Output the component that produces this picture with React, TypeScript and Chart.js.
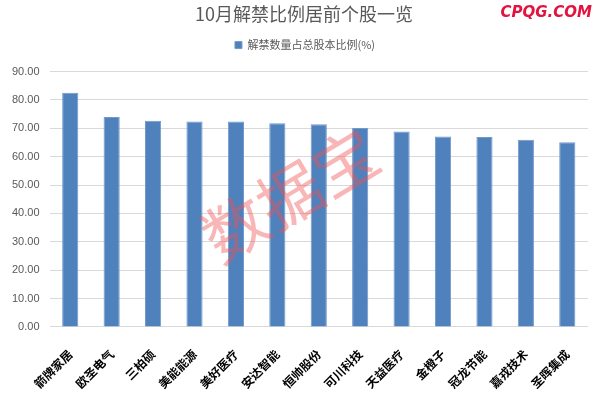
import React, { useEffect, useRef } from "react";
import { Chart, registerables } from "chart.js";

Chart.register(...registerables);

const categories = ["箭牌家居", "欧圣电气", "三柏硕", "美能能源", "美好医疗", "安达智能", "恒帅股份", "可川科技", "天益医疗", "金橙子", "冠龙节能", "嘉戎技术", "圣晖集成"];
const ratioValues = [82.5, 74.0, 72.7, 72.4, 72.4, 71.8, 71.4, 70.1, 68.9, 67.1, 66.9, 66.0, 65.1];
const seriesLabel = "解禁数量占总股本比例(%)";
const chartTitle = "10月解禁比例居前个股一览";
const yTicks = [0, 10, 20, 30, 40, 50, 60, 70, 80, 90];
const siteMark = "CPQG.COM";
const watermark = "数据宝";

const FONT = '"Noto Sans CJK SC", "Noto Sans", sans-serif';

function shiftDraw(box: any, dx: number) {
  if (!box || box.__shifted) return;
  const draw = box.draw;
  box.draw = function (...args: any[]) {
    const ctx = this.ctx;
    ctx.save();
    ctx.translate(dx, 0);
    draw.apply(this, args);
    ctx.restore();
  };
  box.__shifted = true;
}

const overlayPlugin = {
  id: "overlay",
  beforeInit(chart: any) {
    const lg = chart.legend;
    if (lg && !lg.__patched) {
      const fit = lg.fit;
      lg.fit = function () {
        fit.call(this);
        this.height += 11;
      };
      lg.__patched = true;
    }
    shiftDraw(chart.legend, 10);
    shiftDraw(chart.titleBlock, 9);
  },
  afterDraw(chart: any) {
    const ctx = chart.ctx;
    ctx.save();
    ctx.font = 'italic bold 15px "DejaVu Sans", sans-serif';
    ctx.fillStyle = "#e3123f";
    ctx.textAlign = "right";
    ctx.textBaseline = "middle";
    ctx.fillText(siteMark, 592, 13);
    ctx.restore();

    ctx.save();
    ctx.translate(290, 195);
    ctx.rotate((-31 * Math.PI) / 180);
    ctx.font = `400 64px ${FONT}`;
    ctx.fillStyle = "rgba(240, 80, 80, 0.42)";
    ctx.textAlign = "center";
    ctx.textBaseline = "middle";
    ctx.fillText(watermark, 0, 0);
    ctx.restore();
  },
};

export default function App() {
  const ref = useRef<HTMLCanvasElement>(null);
  useEffect(() => {
    if (!ref.current) return;
    const chart = new Chart(ref.current, {
      type: "bar",
      data: {
        labels: categories,
        datasets: [
          {
            label: seriesLabel,
            data: ratioValues,
            backgroundColor: "#4f81bd",
            borderColor: "#7199cc",
            borderWidth: 1,
            barPercentage: 0.39,
            categoryPercentage: 1,
          },
        ],
      },
      options: {
        animation: false,
        responsive: false,
        maintainAspectRatio: false,
        layout: { padding: { top: 3, left: 2, right: 12, bottom: -6 } },
        plugins: {
          title: {
            display: true,
            text: chartTitle,
            color: "#595959",
            font: { family: FONT, size: 18, weight: "normal" },
            padding: { top: 0, bottom: 5 },
          },
          legend: {
            display: true,
            labels: {
              color: "#595959",
              font: { family: FONT, size: 11 },
              boxWidth: 7,
              boxHeight: 7,
              padding: 10,
            },
          },
          tooltip: { enabled: false },
        },
        scales: {
          x: {
            grid: { display: false },
            border: { display: false },
            afterFit: (axis: any) => {
              axis.paddingLeft = 0;
              axis.paddingRight = 0;
            },
            ticks: {
              color: "#000000",
              font: { family: FONT, size: 12, weight: "bold" },
              maxRotation: 45,
              minRotation: 45,
              autoSkip: false,
              padding: 12,
            },
          },
          y: {
            min: 0,
            max: 90,
            afterBuildTicks: (axis: any) => {
              axis.ticks = yTicks.map((v) => ({ value: v }));
            },
            grid: { color: "#d9d9d9", lineWidth: 1, drawTicks: false },
            border: { display: false },
            ticks: {
              color: "#595959",
              font: { family: '"Liberation Sans", sans-serif', size: 11 },
              padding: 10,
              callback: (v: any) => Number(v).toFixed(2),
            },
          },
        },
      },
      plugins: [overlayPlugin],
    });
    return () => chart.destroy();
  }, []);
  return (
    <div style={{ position: "fixed", left: 0, top: 0, width: 600, height: 397, background: "#fff" }}>
      <canvas ref={ref} width={600} height={397} style={{ width: 600, height: 397 }} />
    </div>
  );
}
